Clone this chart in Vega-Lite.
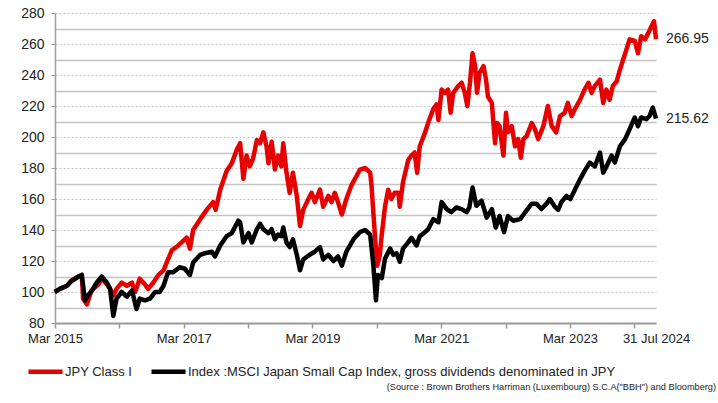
{
"$schema": "https://vega.github.io/schema/vega-lite/v6.json",
"width": 601, "height": 310,
"autosize": {"type": "none"},
"padding": {"left": 55, "top": 13, "right": 62, "bottom": 80},
"background": "white",
"config": {"font": "Liberation Sans", "view": {"stroke": null}},
"title": {"text": "(Source : Brown Brothers Harriman (Luxembourg) S.C.A(\"BBH\") and Bloomberg)", "orient": "bottom", "anchor": "end", "frame": "group", "font": "Liberation Sans", "fontSize": 9.2, "fontWeight": "normal", "color": "#222", "dx": 60, "offset": 2},
"layer": [
{
"data": {"values": [
{"s":"A","t":2015.24,"v":100},{"s":"A","t":2015.32,"v":102},{"s":"A","t":2015.43,"v":104},{"s":"A","t":2015.50,"v":107.5},{"s":"A","t":2015.61,"v":110},{"s":"A","t":2015.66,"v":111},{"s":"A","t":2015.68,"v":95.7},{"s":"A","t":2015.74,"v":92},{"s":"A","t":2015.81,"v":101},{"s":"A","t":2015.92,"v":105},{"s":"A","t":2015.97,"v":108.6},{"s":"A","t":2016.05,"v":105},{"s":"A","t":2016.10,"v":102},{"s":"A","t":2016.15,"v":97.8},{"s":"A","t":2016.20,"v":102},{"s":"A","t":2016.28,"v":106},{"s":"A","t":2016.36,"v":104},{"s":"A","t":2016.44,"v":106},{"s":"A","t":2016.49,"v":100},{"s":"A","t":2016.56,"v":108.6},{"s":"A","t":2016.64,"v":105},{"s":"A","t":2016.69,"v":102},{"s":"A","t":2016.77,"v":106},{"s":"A","t":2016.85,"v":111},{"s":"A","t":2016.93,"v":114},{"s":"A","t":2017.00,"v":121},{"s":"A","t":2017.06,"v":127},{"s":"A","t":2017.13,"v":129},{"s":"A","t":2017.21,"v":132},{"s":"A","t":2017.29,"v":135},{"s":"A","t":2017.34,"v":128},{"s":"A","t":2017.39,"v":140},{"s":"A","t":2017.50,"v":147},{"s":"A","t":2017.60,"v":153},{"s":"A","t":2017.70,"v":158},{"s":"A","t":2017.74,"v":153},{"s":"A","t":2017.81,"v":166},{"s":"A","t":2017.91,"v":178},{"s":"A","t":2017.99,"v":183},{"s":"A","t":2018.07,"v":192},{"s":"A","t":2018.12,"v":196},{"s":"A","t":2018.17,"v":173},{"s":"A","t":2018.22,"v":188},{"s":"A","t":2018.27,"v":181},{"s":"A","t":2018.32,"v":186},{"s":"A","t":2018.38,"v":198},{"s":"A","t":2018.43,"v":196},{"s":"A","t":2018.48,"v":203},{"s":"A","t":2018.53,"v":194},{"s":"A","t":2018.56,"v":183},{"s":"A","t":2018.61,"v":197},{"s":"A","t":2018.66,"v":179},{"s":"A","t":2018.71,"v":188},{"s":"A","t":2018.76,"v":181},{"s":"A","t":2018.79,"v":196},{"s":"A","t":2018.84,"v":177},{"s":"A","t":2018.89,"v":164},{"s":"A","t":2018.94,"v":177},{"s":"A","t":2019.00,"v":162},{"s":"A","t":2019.05,"v":142.6},{"s":"A","t":2019.10,"v":153},{"s":"A","t":2019.18,"v":160},{"s":"A","t":2019.23,"v":164},{"s":"A","t":2019.28,"v":158},{"s":"A","t":2019.36,"v":166},{"s":"A","t":2019.41,"v":155},{"s":"A","t":2019.49,"v":162},{"s":"A","t":2019.54,"v":158},{"s":"A","t":2019.59,"v":164},{"s":"A","t":2019.64,"v":158},{"s":"A","t":2019.70,"v":150},{"s":"A","t":2019.77,"v":160},{"s":"A","t":2019.85,"v":169},{"s":"A","t":2019.93,"v":175},{"s":"A","t":2019.98,"v":179},{"s":"A","t":2020.06,"v":180},{"s":"A","t":2020.14,"v":177},{"s":"A","t":2020.16,"v":169},{"s":"A","t":2020.21,"v":138.6},{"s":"A","t":2020.25,"v":117},{"s":"A","t":2020.29,"v":124},{"s":"A","t":2020.32,"v":137},{"s":"A","t":2020.37,"v":155},{"s":"A","t":2020.42,"v":166},{"s":"A","t":2020.47,"v":160},{"s":"A","t":2020.52,"v":164},{"s":"A","t":2020.58,"v":164},{"s":"A","t":2020.60,"v":155},{"s":"A","t":2020.65,"v":171},{"s":"A","t":2020.73,"v":185},{"s":"A","t":2020.78,"v":188},{"s":"A","t":2020.83,"v":190},{"s":"A","t":2020.87,"v":177},{"s":"A","t":2020.91,"v":194},{"s":"A","t":2020.99,"v":202.6},{"s":"A","t":2021.04,"v":209},{"s":"A","t":2021.12,"v":218},{"s":"A","t":2021.17,"v":221},{"s":"A","t":2021.20,"v":211},{"s":"A","t":2021.25,"v":230.6},{"s":"A","t":2021.30,"v":228.5},{"s":"A","t":2021.35,"v":230.6},{"s":"A","t":2021.39,"v":215.6},{"s":"A","t":2021.43,"v":228.5},{"s":"A","t":2021.51,"v":233},{"s":"A","t":2021.56,"v":235},{"s":"A","t":2021.61,"v":228.5},{"s":"A","t":2021.65,"v":220},{"s":"A","t":2021.69,"v":235},{"s":"A","t":2021.73,"v":254},{"s":"A","t":2021.77,"v":245.7},{"s":"A","t":2021.80,"v":228.5},{"s":"A","t":2021.84,"v":241.4},{"s":"A","t":2021.90,"v":245.7},{"s":"A","t":2021.94,"v":237},{"s":"A","t":2021.97,"v":226},{"s":"A","t":2022.03,"v":222},{"s":"A","t":2022.08,"v":196},{"s":"A","t":2022.11,"v":209},{"s":"A","t":2022.15,"v":207},{"s":"A","t":2022.21,"v":188},{"s":"A","t":2022.25,"v":215.6},{"s":"A","t":2022.28,"v":203},{"s":"A","t":2022.34,"v":207},{"s":"A","t":2022.39,"v":194},{"s":"A","t":2022.44,"v":198.6},{"s":"A","t":2022.48,"v":186.6},{"s":"A","t":2022.52,"v":198.6},{"s":"A","t":2022.57,"v":200.6},{"s":"A","t":2022.65,"v":209},{"s":"A","t":2022.70,"v":205},{"s":"A","t":2022.75,"v":198.6},{"s":"A","t":2022.83,"v":207},{"s":"A","t":2022.90,"v":220},{"s":"A","t":2022.96,"v":207},{"s":"A","t":2023.03,"v":203},{"s":"A","t":2023.09,"v":213.5},{"s":"A","t":2023.16,"v":215.6},{"s":"A","t":2023.21,"v":222},{"s":"A","t":2023.27,"v":213.5},{"s":"A","t":2023.32,"v":218},{"s":"A","t":2023.40,"v":224},{"s":"A","t":2023.47,"v":230.6},{"s":"A","t":2023.53,"v":235},{"s":"A","t":2023.58,"v":228.5},{"s":"A","t":2023.63,"v":233},{"s":"A","t":2023.71,"v":237},{"s":"A","t":2023.76,"v":222},{"s":"A","t":2023.81,"v":230.6},{"s":"A","t":2023.86,"v":224},{"s":"A","t":2023.91,"v":233},{"s":"A","t":2023.97,"v":236},{"s":"A","t":2024.02,"v":243.5},{"s":"A","t":2024.07,"v":250},{"s":"A","t":2024.12,"v":256.4},{"s":"A","t":2024.17,"v":263},{"s":"A","t":2024.25,"v":262},{"s":"A","t":2024.30,"v":254},{"s":"A","t":2024.35,"v":265},{"s":"A","t":2024.41,"v":263},{"s":"A","t":2024.46,"v":267},{"s":"A","t":2024.51,"v":271.4},{"s":"A","t":2024.55,"v":274.6},{"s":"A","t":2024.58,"v":263},
{"s":"B","t":2015.24,"v":100},{"s":"B","t":2015.32,"v":102},{"s":"B","t":2015.43,"v":104},{"s":"B","t":2015.50,"v":107},{"s":"B","t":2015.61,"v":110},{"s":"B","t":2015.66,"v":111},{"s":"B","t":2015.71,"v":94.6},{"s":"B","t":2015.76,"v":98},{"s":"B","t":2015.82,"v":101},{"s":"B","t":2015.89,"v":106},{"s":"B","t":2015.97,"v":110},{"s":"B","t":2016.05,"v":106},{"s":"B","t":2016.10,"v":102},{"s":"B","t":2016.15,"v":84.6},{"s":"B","t":2016.20,"v":95.7},{"s":"B","t":2016.28,"v":100},{"s":"B","t":2016.36,"v":97},{"s":"B","t":2016.44,"v":101},{"s":"B","t":2016.51,"v":89},{"s":"B","t":2016.56,"v":95.7},{"s":"B","t":2016.64,"v":94.6},{"s":"B","t":2016.72,"v":95.7},{"s":"B","t":2016.80,"v":100},{"s":"B","t":2016.87,"v":100},{"s":"B","t":2016.93,"v":104},{"s":"B","t":2017.00,"v":112.7},{"s":"B","t":2017.08,"v":112.7},{"s":"B","t":2017.18,"v":116},{"s":"B","t":2017.26,"v":115},{"s":"B","t":2017.34,"v":111},{"s":"B","t":2017.39,"v":119},{"s":"B","t":2017.50,"v":124},{"s":"B","t":2017.57,"v":125},{"s":"B","t":2017.68,"v":126},{"s":"B","t":2017.73,"v":123},{"s":"B","t":2017.81,"v":130},{"s":"B","t":2017.91,"v":136},{"s":"B","t":2017.99,"v":138},{"s":"B","t":2018.09,"v":146},{"s":"B","t":2018.12,"v":145},{"s":"B","t":2018.17,"v":132},{"s":"B","t":2018.25,"v":138},{"s":"B","t":2018.30,"v":132},{"s":"B","t":2018.38,"v":140.5},{"s":"B","t":2018.43,"v":144},{"s":"B","t":2018.48,"v":140.5},{"s":"B","t":2018.56,"v":138},{"s":"B","t":2018.61,"v":140.5},{"s":"B","t":2018.66,"v":134},{"s":"B","t":2018.71,"v":137},{"s":"B","t":2018.76,"v":136},{"s":"B","t":2018.79,"v":141.6},{"s":"B","t":2018.84,"v":132},{"s":"B","t":2018.89,"v":129},{"s":"B","t":2018.94,"v":134},{"s":"B","t":2019.00,"v":124},{"s":"B","t":2019.05,"v":114},{"s":"B","t":2019.10,"v":121},{"s":"B","t":2019.20,"v":124},{"s":"B","t":2019.28,"v":126},{"s":"B","t":2019.36,"v":129},{"s":"B","t":2019.41,"v":121},{"s":"B","t":2019.49,"v":124},{"s":"B","t":2019.57,"v":120},{"s":"B","t":2019.64,"v":123},{"s":"B","t":2019.70,"v":117},{"s":"B","t":2019.77,"v":126},{"s":"B","t":2019.88,"v":134},{"s":"B","t":2019.98,"v":138.6},{"s":"B","t":2020.06,"v":140},{"s":"B","t":2020.14,"v":137},{"s":"B","t":2020.19,"v":117},{"s":"B","t":2020.23,"v":94.6},{"s":"B","t":2020.26,"v":111},{"s":"B","t":2020.32,"v":109},{"s":"B","t":2020.37,"v":121.5},{"s":"B","t":2020.45,"v":128},{"s":"B","t":2020.50,"v":124},{"s":"B","t":2020.55,"v":125},{"s":"B","t":2020.60,"v":119.5},{"s":"B","t":2020.65,"v":128},{"s":"B","t":2020.73,"v":132},{"s":"B","t":2020.78,"v":135},{"s":"B","t":2020.86,"v":130},{"s":"B","t":2020.91,"v":136},{"s":"B","t":2020.99,"v":138.6},{"s":"B","t":2021.04,"v":140.5},{"s":"B","t":2021.12,"v":147},{"s":"B","t":2021.20,"v":145},{"s":"B","t":2021.25,"v":158},{"s":"B","t":2021.33,"v":153.5},{"s":"B","t":2021.40,"v":151.5},{"s":"B","t":2021.48,"v":154.5},{"s":"B","t":2021.56,"v":153.5},{"s":"B","t":2021.64,"v":151.5},{"s":"B","t":2021.68,"v":154.5},{"s":"B","t":2021.73,"v":167.4},{"s":"B","t":2021.79,"v":155.6},{"s":"B","t":2021.87,"v":159},{"s":"B","t":2021.95,"v":148},{"s":"B","t":2022.03,"v":153.5},{"s":"B","t":2022.09,"v":141.6},{"s":"B","t":2022.15,"v":149},{"s":"B","t":2022.22,"v":138.6},{"s":"B","t":2022.28,"v":149},{"s":"B","t":2022.36,"v":146},{"s":"B","t":2022.47,"v":147},{"s":"B","t":2022.54,"v":151},{"s":"B","t":2022.65,"v":157},{"s":"B","t":2022.72,"v":157},{"s":"B","t":2022.80,"v":153.5},{"s":"B","t":2022.88,"v":157},{"s":"B","t":2022.93,"v":160},{"s":"B","t":2023.01,"v":155},{"s":"B","t":2023.06,"v":153},{"s":"B","t":2023.11,"v":158},{"s":"B","t":2023.19,"v":162},{"s":"B","t":2023.25,"v":160},{"s":"B","t":2023.32,"v":166},{"s":"B","t":2023.40,"v":172.7},{"s":"B","t":2023.47,"v":178},{"s":"B","t":2023.55,"v":183.5},{"s":"B","t":2023.63,"v":181},{"s":"B","t":2023.71,"v":190},{"s":"B","t":2023.76,"v":177},{"s":"B","t":2023.81,"v":181},{"s":"B","t":2023.89,"v":188},{"s":"B","t":2023.94,"v":183.5},{"s":"B","t":2024.02,"v":194},{"s":"B","t":2024.10,"v":198.6},{"s":"B","t":2024.17,"v":205},{"s":"B","t":2024.25,"v":212.6},{"s":"B","t":2024.30,"v":207},{"s":"B","t":2024.35,"v":212.6},{"s":"B","t":2024.43,"v":211.5},{"s":"B","t":2024.48,"v":213.5},{"s":"B","t":2024.53,"v":219},{"s":"B","t":2024.58,"v":211.8}
]},
"mark": {"type": "line", "strokeWidth": 4.5, "strokeJoin": "round"},
"encoding": {
"x": {"field": "t", "type": "quantitative",
 "scale": {"domain": [2015.244, 2024.58], "nice": false, "zero": false},
 "axis": {"title": null, "grid": false,
  "values": [2015.244, 2016.244, 2017.244, 2018.244, 2019.244, 2020.244, 2021.244, 2022.244, 2023.244, 2024.244, 2024.58],
  "labelExpr": "datum.value > 2024.5 ? '31 Jul 2024' : (round(datum.value - 0.244) % 2 == 1 ? 'Mar ' + round(datum.value - 0.244) : '')",
  "labelFlush": false, "labelOverlap": false, "labelFontSize": 13, "labelColor": "#222", "labelPadding": 4,
  "domainColor": "#9a9a9a", "domainWidth": 2, "tickColor": "#9a9a9a", "tickSize": 5, "tickWidth": 1.5,
  "tickOpacity": {"condition": {"test": "datum.value > 2024.5", "value": 0}, "value": 1}}},
"y": {"field": "v", "type": "quantitative",
 "scale": {"domain": [80, 280], "nice": false, "zero": false},
 "axis": {"title": null, "values": [80, 100, 120, 140, 160, 180, 200, 220, 240, 260, 280],
  "labelFontSize": 14, "labelColor": "#222", "labelPadding": 7, "labelFlush": false,
  "domainColor": "#a0a0a0", "domainWidth": 1.5, "tickColor": "#a0a0a0", "tickSize": 4, "tickWidth": 1,
  "grid": true, "gridColor": "#c4c4c4", "gridDash": [2, 2], "gridWidth": 1}},
"color": {"field": "s", "type": "nominal",
 "scale": {"domain": ["A", "B"], "range": ["#e60000", "#000000"]},
 "legend": {"orient": "none", "legendX": -29, "legendY": 339, "direction": "horizontal", "title": null,
  "symbolType": "stroke", "symbolSize": 1156, "symbolStrokeWidth": 4.5, "labelFontSize": 13, "labelColor": "#222",
  "labelOffset": 0, "columnPadding": 9, "padding": 0, "labelLimit": 0,
  "labelExpr": "datum.label == 'A' ? 'JPY Class I' : 'Index :MSCI Japan Small Cap Index, gross dividends denominated in JPY'"}}
}
},
{
"data": {"values": [{"t": 2024.58, "v": 263, "label": "266.95"}, {"t": 2024.58, "v": 211.8, "label": "215.62"}]},
"mark": {"type": "text", "align": "left", "baseline": "middle", "dx": 10, "fontSize": 14, "color": "#222"},
"encoding": {
"x": {"field": "t", "type": "quantitative"},
"y": {"field": "v", "type": "quantitative",
 "axis": {"orient": "right", "title": null, "values": [90, 110, 130, 150, 170, 190, 210, 230, 250, 270],
  "labels": false, "ticks": false, "domain": false, "grid": true, "gridColor": "#c4c4c4", "gridWidth": 1.5, "gridDash": []}},
"text": {"field": "label"}
}
}
],
"resolve": {"axis": {"y": "independent"}}
}
